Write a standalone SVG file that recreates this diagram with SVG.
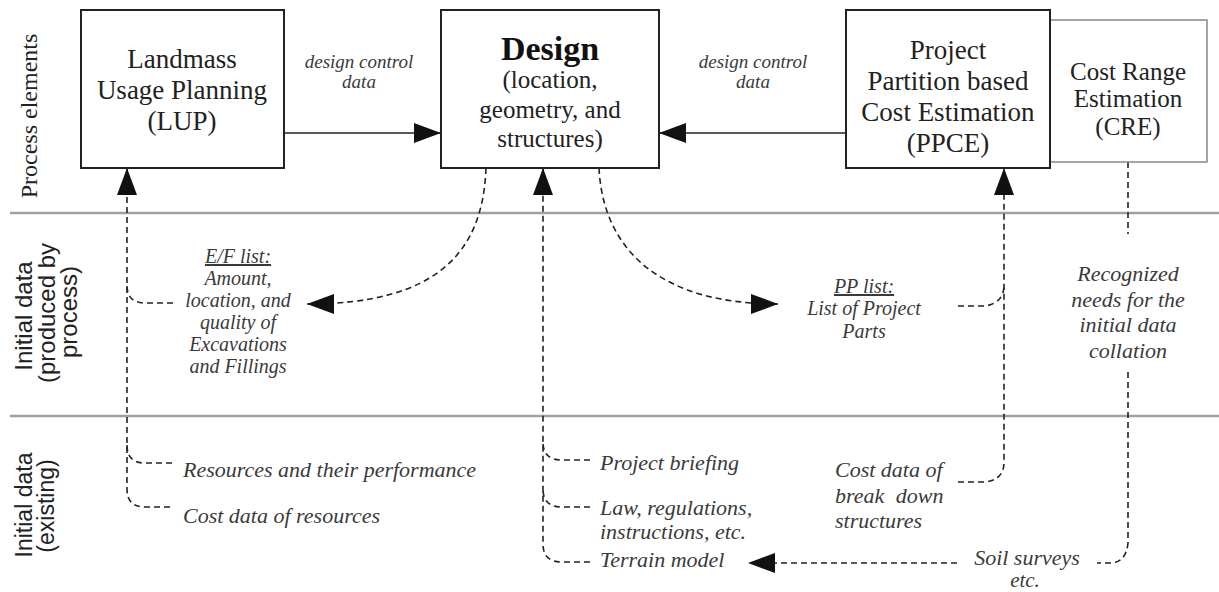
<svg xmlns="http://www.w3.org/2000/svg" width="1219" height="592" viewBox="0 0 1219 592">
<style>
.box{fill:#fff;stroke:#222;stroke-width:2}
.box2{fill:#fff;stroke:#888;stroke-width:1.5}
.sep{stroke:#a0a0a0;stroke-width:2.5}
.solid{fill:none;stroke:#222;stroke-width:1.6}
.dash{fill:none;stroke:#222;stroke-width:1.6;stroke-dasharray:6 4}
.t{font-family:"Liberation Serif","Times New Roman",serif;fill:#222;text-anchor:middle}
.tb{font-family:"Liberation Serif","Times New Roman",serif;fill:#111;font-weight:bold;text-anchor:middle}
.it{font-family:"Liberation Serif","Times New Roman",serif;font-style:italic;fill:#3a3a3a}
.lane{font-family:"Liberation Sans",Arial,sans-serif;fill:#222;text-anchor:middle}
</style>
<defs>
<marker id="ah" markerUnits="userSpaceOnUse" markerWidth="28" markerHeight="20" refX="27" refY="10" orient="auto">
<path d="M0,0 L27,10 L0,20 z" fill="#111"/>
</marker>
</defs>
<rect width="1219" height="592" fill="#fff"/>
<g id="lanes">
<line class="sep" x1="10" y1="213" x2="1219" y2="213"/>
<line class="sep" x1="10" y1="416" x2="1219" y2="416"/>
<text class="t" font-size="24" transform="translate(37,116) rotate(-90)">Process elements</text>
<text class="lane" font-size="24" transform="translate(32,316) rotate(-90)">Initial data</text>
<text class="lane" font-size="24" transform="translate(55,313) rotate(-90)">(produced by</text>
<text class="lane" font-size="24" transform="translate(77,312) rotate(-90)">process)</text>
<text class="lane" font-size="23" transform="translate(32,505) rotate(-90)">Initial data</text>
<text class="lane" font-size="23" transform="translate(54,506) rotate(-90)">(existing)</text>
</g>
<g id="connectors">
<path class="solid" d="M284,133 L441,133" marker-end="url(#ah)"/>
<path class="solid" d="M846,133 L659,133" marker-end="url(#ah)"/>
<path class="solid" d="M1060,30 L1017,30" marker-end="url(#ah)"/>
<path class="solid" d="M1038,146 L1083,146" marker-end="url(#ah)"/>
<path class="dash" d="M170,507 L145,507 Q127,507 127,489 L127,168" marker-end="url(#ah)"/>
<path class="dash" d="M173,303 L145,303 Q127,303 127,285"/>
<path class="dash" d="M172,463 L145,463 Q127,463 127,445"/>
<path class="dash" d="M486,168 C483,250 440,304 307,304" marker-end="url(#ah)"/>
<path class="dash" d="M599,168 C603,250 660,304 778,304" marker-end="url(#ah)"/>
<path class="dash" d="M590,562 L562,562 Q543,562 543,544 L543,168" marker-end="url(#ah)"/>
<path class="dash" d="M590,460 L562,460 Q543,460 543,442"/>
<path class="dash" d="M590,507 L562,507 Q543,507 543,489"/>
<path class="dash" d="M958,482 L985,482 Q1004,480 1004,462 L1004,168" marker-end="url(#ah)"/>
<path class="dash" d="M958,306 L985,306 Q1004,303 1004,285"/>
<path class="dash" d="M1128,162 L1128,234"/>
<path class="dash" d="M1128,372 L1128,543 Q1126,563 1110,563 L1097,563"/>
<path class="dash" d="M957,563 L748,563" marker-end="url(#ah)"/>
</g>
<g id="lup">
<rect class="box" x="81" y="10" width="203" height="158"/>
<text class="t" font-size="27" x="182" y="68">Landmass</text>
<text class="t" font-size="27" x="182" y="99">Usage Planning</text>
<text class="t" font-size="27" x="182" y="130">(LUP)</text>
</g>
<g id="design">
<rect class="box" x="441" y="10" width="218" height="158"/>
<text class="tb" font-size="34" x="550" y="60">Design</text>
<text class="t" font-size="25" x="550" y="88">(location,</text>
<text class="t" font-size="25" x="550" y="118">geometry, and</text>
<text class="t" font-size="25" x="550" y="147">structures)</text>
</g>
<g id="cre">
<rect class="box2" x="1050" y="20" width="157" height="142"/>
<text class="t" font-size="25" x="1128" y="80">Cost Range</text>
<text class="t" font-size="25" x="1128" y="107">Estimation</text>
<text class="t" font-size="25" x="1128" y="135">(CRE)</text>
</g>
<g id="ppce">
<rect class="box" x="846" y="10" width="204" height="158"/>
<text class="t" font-size="27" x="948" y="59">Project</text>
<text class="t" font-size="27" x="948" y="90">Partition based</text>
<text class="t" font-size="27" x="948" y="121">Cost Estimation</text>
<text class="t" font-size="27" x="948" y="152">(PPCE)</text>
</g>
<g id="label-dcd1">
<text class="it" font-size="19" text-anchor="middle" x="359" y="68">design control</text>
<text class="it" font-size="19" text-anchor="middle" x="359" y="88">data</text>
</g>
<g id="label-dcd2">
<text class="it" font-size="19" text-anchor="middle" x="753" y="68">design control</text>
<text class="it" font-size="19" text-anchor="middle" x="753" y="88">data</text>
</g>
<g id="ef-list">
<text class="it" font-size="20" text-anchor="middle" x="238" y="263" text-decoration="underline">E/F list:</text>
<text class="it" font-size="20" text-anchor="middle" x="238" y="285">Amount,</text>
<text class="it" font-size="20" text-anchor="middle" x="238" y="307">location, and</text>
<text class="it" font-size="20" text-anchor="middle" x="238" y="329">quality of</text>
<text class="it" font-size="20" text-anchor="middle" x="238" y="351">Excavations</text>
<text class="it" font-size="20" text-anchor="middle" x="238" y="373">and Fillings</text>
</g>
<g id="pp-list">
<text class="it" font-size="20" text-anchor="middle" x="864" y="293" text-decoration="underline">PP list:</text>
<text class="it" font-size="20" text-anchor="middle" x="864" y="315">List of Project</text>
<text class="it" font-size="20" text-anchor="middle" x="864" y="338">Parts</text>
</g>
<g id="recognized">
<text class="it" font-size="22" text-anchor="middle" x="1128" y="281">Recognized</text>
<text class="it" font-size="22" text-anchor="middle" x="1128" y="307">needs for the</text>
<text class="it" font-size="22" text-anchor="middle" x="1128" y="332">initial data</text>
<text class="it" font-size="22" text-anchor="middle" x="1128" y="358">collation</text>
</g>
<g id="resources">
<text class="it" font-size="22" x="183" y="477">Resources and their performance</text>
</g>
<g id="cost-resources">
<text class="it" font-size="22" x="183" y="523">Cost data of resources</text>
</g>
<g id="briefing">
<text class="it" font-size="22" x="600" y="470">Project briefing</text>
</g>
<g id="law">
<text class="it" font-size="22" x="600" y="515">Law, regulations,</text>
<text class="it" font-size="22" x="600" y="539">instructions, etc.</text>
</g>
<g id="terrain">
<text class="it" font-size="22" x="600" y="567">Terrain model</text>
</g>
<g id="cost-bds">
<text class="it" font-size="22" x="835" y="477">Cost data of</text>
<text class="it" font-size="22" x="835" y="503" word-spacing="6">break down</text>
<text class="it" font-size="22" x="835" y="528">structures</text>
</g>
<g id="soil">
<text class="it" font-size="22" text-anchor="middle" x="1027" y="565">Soil surveys</text>
<text class="it" font-size="21" text-anchor="middle" x="1025" y="587">etc.</text>
</g>
</svg>
